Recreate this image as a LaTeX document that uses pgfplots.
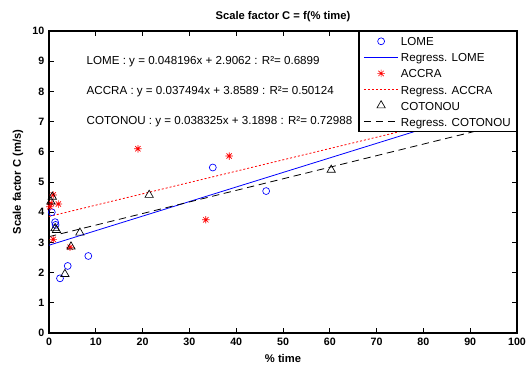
\documentclass[border=0pt]{standalone}
\usepackage{fontspec}
\setmainfont{Liberation Sans}
\usepackage{pgfplots}
\pgfplotsset{compat=1.18}
\pgfdeclareplotmark{mstar}{%
  \pgfpathmoveto{\pgfqpoint{-\pgfplotmarksize}{0pt}}\pgfpathlineto{\pgfqpoint{\pgfplotmarksize}{0pt}}%
  \pgfpathmoveto{\pgfqpoint{0pt}{-\pgfplotmarksize}}\pgfpathlineto{\pgfqpoint{0pt}{\pgfplotmarksize}}%
  \pgfpathmoveto{\pgfqpoint{-0.707\pgfplotmarksize}{-0.707\pgfplotmarksize}}\pgfpathlineto{\pgfqpoint{0.707\pgfplotmarksize}{0.707\pgfplotmarksize}}%
  \pgfpathmoveto{\pgfqpoint{-0.707\pgfplotmarksize}{0.707\pgfplotmarksize}}\pgfpathlineto{\pgfqpoint{0.707\pgfplotmarksize}{-0.707\pgfplotmarksize}}%
  \pgfusepathqstroke}
\newcommand{\legline}[2]{\pgfsetstrokecolor{#1}\pgfsetlinewidth{0.75pt}#2%
  \pgfpathmoveto{\pgfqpoint{0pt}{0pt}}\pgfpathlineto{\pgfqpoint{26pt}{0pt}}\pgfusepath{stroke}}
\begin{document}
\begin{tikzpicture}
\begin{axis}[
  at={(0,0)}, anchor=south west,
  scale only axis, width=351pt, height=226.5pt,
  xmin=0, xmax=100, ymin=0, ymax=10,
  xtick={0,10,...,100}, ytick={0,1,...,10},
  tick align=inside, major tick length=3.75pt,
  axis line style={line width=0.8pt},
  every tick/.style={black, line width=0.6pt},
  ticklabel style={font=\bfseries\fontsize{8}{9}\selectfont},
  /pgf/number format/assume math mode=true,
  title={Scale factor C = f(\% time)},
  title style={font=\bfseries\fontsize{8.4}{10}\selectfont, at={(axis description cs:0.5,1.0464)}, anchor=center, yshift=-6pt},
  xlabel={\% time}, ylabel={Scale factor C (m/s)},
  xlabel style={font=\bfseries\fontsize{8.4}{10}\selectfont, at={(axis description cs:0.5,-0.0828)}, anchor=center},
  ylabel style={font=\bfseries\fontsize{8.4}{10}\selectfont, at={(axis description cs:-0.0662,0.5)}, anchor=center},
  legend image code/.code={\draw[mark repeat=2,mark phase=2,#1] plot coordinates {(0pt,0pt) (13pt,0pt) (26pt,0pt)};},
  legend cell align=left,
  legend style={name=leg, at={(1,1)}, anchor=north east, draw=none, fill=white,
    font=\fontsize{8.7}{10}\selectfont, inner xsep=3pt, inner ysep=1.5pt, row sep=0pt,
    nodes={inner xsep=1.5pt, inner ysep=1.0pt, text height=1.6ex, text depth=0.3ex}},
]
\addplot[only marks, mark=o, blue, mark size=2.6pt, line width=0.5pt] coordinates {
 (35,5.48) (46.4,4.7) (0.6,4.0) (1.3,3.67) (1.4,3.58) (8.4,2.55) (4.0,2.22) (2.35,1.81)};
\addlegendentry{LOME}
\addplot[blue, line width=0.6pt,
  legend image code/.code={\legline{blue}{}}] coordinates {(0,2.9062) (100,7.7258)};
\addlegendentry{Regress. LOME}
\addplot[only marks, mark=mstar, red, mark size=2.8pt, line width=0.5pt] coordinates {
 (0.9,4.57) (0.5,4.3) (2.0,4.27) (0.2,4.18) (0.9,3.1) (4.5,2.84) (19,6.1) (33.5,3.75) (38.5,5.86)};
\addlegendentry{ACCRA}
\addplot[red, line width=0.6pt, dash pattern=on 1.5pt off 1.5pt,
  legend image code/.code={\legline{red}{\pgfsetdash{{1.5pt}{1.5pt}}{0pt}}}] coordinates {(0,3.8589) (100,7.6083)};
\addlegendentry{Regress. ACCRA}
\addplot[only marks, mark=triangle, black, mark size=3.6pt, line width=0.5pt] coordinates {
 (0.7,4.51) (0.4,4.35) (1.3,3.47) (1.6,3.41) (4.7,2.86) (3.4,1.95) (6.6,3.32) (21.4,4.57) (60.3,5.4)};
\addlegendentry{COTONOU}
\addplot[black, line width=0.6pt, dash pattern=on 5.5pt off 3.5pt,
  legend image code/.code={\legline{black}{\pgfsetdash{{5.5pt}{3.5pt}}{0pt}}}] coordinates {(0,3.1898) (100,7.0223)};
\addlegendentry{Regress. COTONOU}
\node[anchor=west, inner sep=0pt, font=\fontsize{8.7}{10}\selectfont] at (axis cs:8,9) {LOME : y = 0.048196x + 2.9062 : R²= 0.6899};
\node[anchor=west, inner sep=0pt, font=\fontsize{8.7}{10}\selectfont] at (axis cs:8,8) {ACCRA : y = 0.037494x + 3.8589 : R²= 0.50124};
\node[anchor=west, inner sep=0pt, font=\fontsize{8.7}{10}\selectfont] at (axis cs:8,7) {COTONOU : y = 0.038325x + 3.1898 : R²= 0.72988};
\end{axis}
\draw[line width=0.8pt] (leg.south west) rectangle (leg.north east);
\pgfresetboundingbox
\path[use as bounding box] (-36.75pt,-24pt) rectangle (361.5pt,249.75pt);
\end{tikzpicture}
\end{document}
